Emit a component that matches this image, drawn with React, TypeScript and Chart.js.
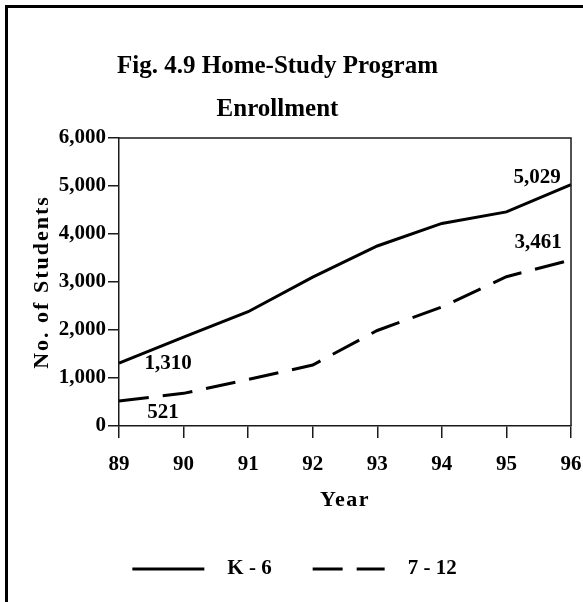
import React, { useEffect, useRef } from 'react';
import { Chart, registerables } from 'chart.js';

Chart.register(...registerables);

const titleLines = ['Fig. 4.9 Home-Study Program', 'Enrollment'];
const years = ['89', '90', '91', '92', '93', '94', '95', '96'];
const k6 = [1310, 1850, 2380, 3100, 3750, 4220, 4460, 5029];
const g712 = [521, 680, 970, 1270, 1990, 2480, 3110, 3461];
const seriesNames = ['K - 6', '7 - 12'];
const yMin = 0;
const yMax = 6000;
const yStep = 1000;
const xTitle = 'Year';
const yTitle = 'No. of Students';

const FONT = '"Liberation Serif", "Times New Roman", serif';
const INK = '#000';
const AXIS = '#1a1a1a';

const fmt = (v: number) => Number(v).toLocaleString('en-US');

const framePlugin = {
  id: 'frame',
  afterLayout(chart: any) {
    const tb = chart.titleBlock;
    if (tb) {
      tb.left -= 18;
      tb.right -= 18;
    }
  },
  beforeDraw(chart: any) {
    const ctx = chart.ctx;
    ctx.save();
    ctx.fillStyle = '#fff';
    ctx.fillRect(0, 0, chart.width, chart.height);
    ctx.fillStyle = INK;
    ctx.fillRect(5, 5, chart.width - 5, 3);
    ctx.fillRect(5, 5, 3, chart.height - 5);
    ctx.restore();
    // letter-spaced axis titles
    Object.values(chart.scales).forEach((s: any) => {
      if (s.__patched) return;
      const orig = s.drawTitle;
      s.drawTitle = function (...args: any[]) {
        const c = this.ctx;
        c.save();
        (c as any).letterSpacing = this.axis === 'y' ? '2px' : '1.5px';
        orig.apply(this, args);
        c.restore();
      };
      s.__patched = true;
    });
  },
};

const boxPlugin = {
  id: 'plotBox',
  afterDraw(chart: any) {
    const { left, right, top, bottom } = chart.chartArea;
    const ctx = chart.ctx;
    ctx.save();
    ctx.strokeStyle = AXIS;
    ctx.lineWidth = 1.5;
    ctx.beginPath();
    ctx.moveTo(left, top);
    ctx.lineTo(right, top);
    ctx.lineTo(right, bottom);
    ctx.stroke();
    ctx.restore();
  },
};

const labelOffsets = [
  [[49, 0], [-34, -7]],
  [[44, 12], [-33, -17]],
];

const dataLabelPlugin = {
  id: 'endLabels',
  afterDatasetsDraw(chart: any) {
    const ctx = chart.ctx;
    ctx.save();
    ctx.font = `bold 21px ${FONT}`;
    ctx.fillStyle = INK;
    ctx.textAlign = 'center';
    ctx.textBaseline = 'middle';
    chart.data.datasets.forEach((ds: any, di: number) => {
      const meta = chart.getDatasetMeta(di);
      const idxs = [0, ds.data.length - 1];
      idxs.forEach((i, k) => {
        const p = meta.data[i];
        const [dx, dy] = labelOffsets[di][k];
        ctx.fillText(fmt(ds.data[i]), p.x + dx, p.y + dy);
      });
    });
    ctx.restore();
  },
};

const legendPlugin = {
  id: 'customLegend',
  afterDraw(chart: any) {
    const ctx = chart.ctx;
    ctx.save();
    ctx.font = `bold 21px ${FONT}`;
    ctx.fillStyle = INK;
    ctx.strokeStyle = INK;
    ctx.lineWidth = 3;
    ctx.textBaseline = 'middle';
    ctx.textAlign = 'left';
    const lineW = 72;
    const textGap = 23;
    const itemGap = 41;
    const widths = chart.data.datasets.map((ds: any) => lineW + textGap + ctx.measureText(ds.label).width);
    const total = widths.reduce((a: number, b: number) => a + b, 0) + itemGap * (widths.length - 1);
    let x = chart.width / 2 - total / 2 + 3;
    const y = chart.height - 33;
    chart.data.datasets.forEach((ds: any, i: number) => {
      ctx.setLineDash(ds.borderDash || []);
      ctx.beginPath();
      ctx.moveTo(x, y);
      ctx.lineTo(x + lineW, y);
      ctx.stroke();
      ctx.setLineDash([]);
      ctx.fillText(ds.label, x + lineW + textGap, y);
      x += widths[i] + itemGap;
    });
    ctx.restore();
  },
};

export default function App() {
  const ref = useRef<HTMLCanvasElement | null>(null);

  useEffect(() => {
    if (!ref.current) return;
    const tickFont = { family: FONT, size: 21, weight: 'bold' as const };
    const chart = new Chart(ref.current, {
      type: 'line',
      data: {
        labels: years,
        datasets: [
          {
            label: seriesNames[0],
            data: k6,
            borderColor: INK,
            borderWidth: 3,
            pointRadius: 0,
            tension: 0,
            fill: false,
          },
          {
            label: seriesNames[1],
            data: g712,
            borderColor: INK,
            borderWidth: 3,
            borderDash: [30, 14],
            pointRadius: 0,
            tension: 0,
            fill: false,
          },
        ],
      },
      options: {
        animation: false,
        responsive: false,
        maintainAspectRatio: false,
        devicePixelRatio: 1,
        layout: { padding: { top: 0, left: 8, right: 0, bottom: 60 } },
        plugins: {
          legend: { display: false },
          tooltip: { enabled: false },
          title: {
            display: true,
            text: titleLines,
            color: INK,
            font: { family: FONT, size: 25, weight: 'bold', lineHeight: 1.72 },
            padding: { top: 45, bottom: 7 },
          },
        },
        scales: {
          x: {
            offset: false,
            ticks: { font: tickFont, color: INK, padding: 14, maxRotation: 0, autoSkip: false },
            grid: { drawOnChartArea: false, drawTicks: true, tickLength: 12, color: AXIS, lineWidth: 1.5 },
            border: { display: true, color: AXIS, width: 1.5 },
            title: {
              display: true,
              text: xTitle,
              color: INK,
              font: { family: FONT, size: 22, weight: 'bold' },
              padding: { top: 0, bottom: 28 },
            },
            afterFit: (s: any) => {
              s.height = 116;
              s.paddingRight = 12;
            },
          },
          y: {
            min: yMin,
            max: yMax,
            ticks: {
              stepSize: yStep,
              font: tickFont,
              color: INK,
              padding: 2,
              callback: (v: any) => fmt(v),
            },
            grid: { drawOnChartArea: false, drawTicks: true, tickLength: 11, color: AXIS, lineWidth: 1.5 },
            border: { display: true, color: AXIS, width: 1.5 },
            title: {
              display: true,
              text: yTitle,
              color: INK,
              font: { family: FONT, size: 22, weight: 'bold' },
              padding: { top: 21, bottom: 0 },
            },
            afterFit: (s: any) => {
              s.width = 111;
            },
          },
        },
      },
      plugins: [framePlugin, boxPlugin, dataLabelPlugin, legendPlugin],
    });
    return () => chart.destroy();
  }, []);

  return (
    <div style={{ position: 'fixed', left: 0, top: 0, width: 583, height: 602, background: '#fff' }}>
      <canvas ref={ref} width={583} height={602} style={{ display: 'block', width: 583, height: 602 }} />
    </div>
  );
}
